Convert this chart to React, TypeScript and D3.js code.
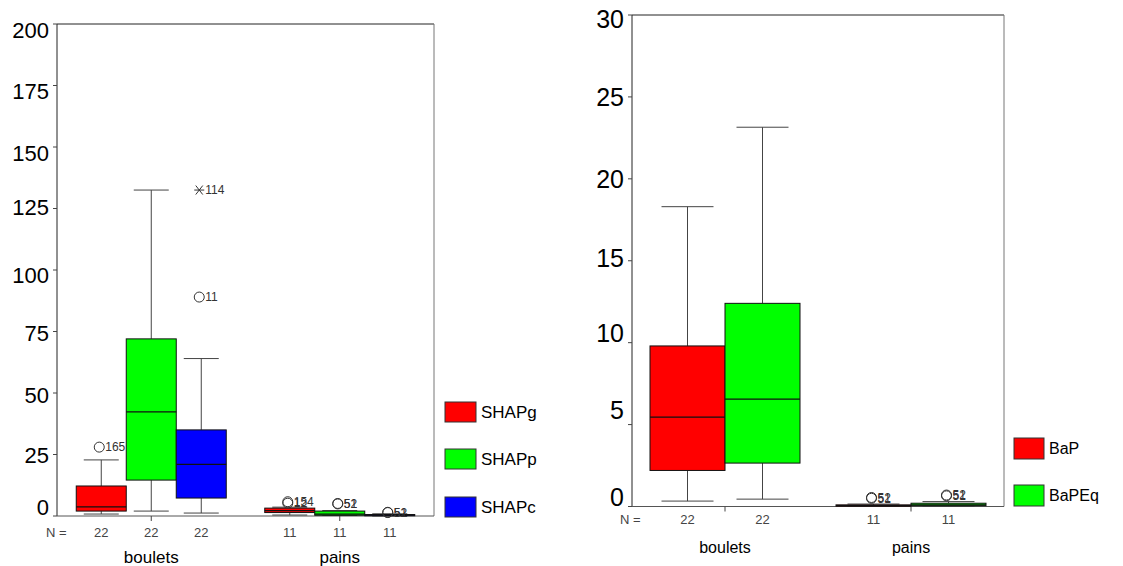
import React from "react";
import * as d3 from "d3";

// ---------- DATA ----------
const leftCategories = ["boulets", "pains"];
const leftSeries = ["SHAPg", "SHAPp", "SHAPc"];
const leftColors = ["#ff0000", "#00ff00", "#0000ff"];
const leftN = [[22, 22, 22], [11, 11, 11]];
// [lowerWhisker, q1, median, q3, upperWhisker] per category, per series
const shapgStats = [[0.8, 2.0, 3.7, 12.2, 22.8], [0.4, 1.4, 2.2, 3.2, 3.6]];
const shappStats = [[2.0, 14.6, 42.3, 72.0, 132.5], [0.2, 0.3, 0.8, 2.0, 2.2]];
const shapcStats = [[1.2, 7.3, 21.0, 35.0, 64.0], [0.0, 0.1, 0.3, 0.6, 0.9]];
const leftTicks = [0, 25, 50, 75, 100, 125, 150, 175, 200];
const leftOutliers = [
  { cat: 0, s: 0, v: 28, label: "165", kind: "circle" },
  { cat: 0, s: 2, v: 89, label: "11", kind: "circle" },
  { cat: 0, s: 2, v: 132.5, label: "114", kind: "star" },
  { cat: 1, s: 0, v: 5.8, label: "154", kind: "circle" },
  { cat: 1, s: 0, v: 5.2, label: "12", kind: "circle" },
  { cat: 1, s: 1, v: 5.1, label: "52", kind: "circle" },
  { cat: 1, s: 1, v: 4.9, label: "51", kind: "circle" },
  { cat: 1, s: 2, v: 1.5, label: "52", kind: "circle" },
  { cat: 1, s: 2, v: 1.4, label: "51", kind: "circle" },
];

const rightCategories = ["boulets", "pains"];
const rightSeries = ["BaP", "BaPEq"];
const rightColors = ["#ff0000", "#00ff00"];
const rightN = [[22, 22], [11, 11]];
const bapStats = [[0.33, 2.2, 5.45, 9.8, 18.3], [0.0, 0.02, 0.05, 0.1, 0.15]];
const bapeqStats = [[0.45, 2.65, 6.55, 12.4, 23.15], [0.02, 0.05, 0.1, 0.2, 0.3]];
const rightTicks = [0, 5, 10, 15, 20, 25, 30];
const rightOutliers = [
  { cat: 1, s: 0, v: 0.55, label: "52", kind: "circle" },
  { cat: 1, s: 0, v: 0.5, label: "51", kind: "circle" },
  { cat: 1, s: 1, v: 0.7, label: "52", kind: "circle" },
  { cat: 1, s: 1, v: 0.65, label: "51", kind: "circle" },
];

const FONT = "Arial, 'Liberation Sans', sans-serif";

type Outlier = { cat: number; s: number; v: number; label: string; kind: string };

function BoxChart(props: {
  x0: number; x1: number; y0: number; y1: number;
  domainMax: number; ticks: number[]; tickDy: (v: number) => number; tickFont: number;
  catFont: number; legendFont: number;
  categories: string[]; series: string[]; colors: string[];
  stats: number[][][]; nvals: number[][]; outliers: Outlier[];
  boxW: number; capW: number;
  nLabelX: number; nY: number; catY: number;
  legendX: number; legendY: number[]; legendW: number; legendH: number;
}) {
  const { x0, x1, y0, y1, domainMax, ticks, categories, series, colors, stats, nvals, outliers, boxW, capW } = props;
  const y = d3.scaleLinear().domain([0, domainMax]).range([y1, y0]);
  const xc = d3.scaleBand<string>().domain(categories).range([x0, x1]).paddingInner(0).paddingOuter(0);
  const ns = series.length;
  const boxX = (c: number, s: number) =>
    (xc(categories[c]) as number) + xc.bandwidth() / 2 - (ns * boxW) / 2 + s * boxW;

  return (
    <g>
      {/* frame */}
      <line x1={x0} x2={x1} y1={y0} y2={y0} stroke="#222" strokeWidth={1} />
      <line x1={x1} x2={x1} y1={y0} y2={y1} stroke="#777" strokeWidth={1} />
      <line x1={x0} x2={x0} y1={y0} y2={y1} stroke="#222" strokeWidth={1} />
      <line x1={x0} x2={x1} y1={y1} y2={y1} stroke="#555" strokeWidth={1} />
      {/* y ticks */}
      {ticks.map((t) => (
        <g key={t}>
          <line x1={x0 - 4} x2={x0} y1={y(t)} y2={y(t)} stroke="#444" />
          <text x={x0 - 8} y={y(t) + props.tickDy(t)} dy="0.35em" textAnchor="end"
            fontSize={props.tickFont} fontFamily={FONT} fill="#000">{t}</text>
        </g>
      ))}
      {/* category ticks & labels */}
      {categories.map((c, ci) => {
        const cx = (xc(c) as number) + xc.bandwidth() / 2;
        return (
          <g key={c}>
            <line x1={cx} x2={cx} y1={y1} y2={y1 + 5} stroke="#444" />
            <text x={cx} y={props.catY} dy="0.35em" textAnchor="middle" fontSize={props.catFont}
              fontFamily={FONT} fill="#000">{c}</text>
            {series.map((s, si) => (
              <text key={s} x={boxX(ci, si) + boxW / 2} y={props.nY} dy="0.35em" textAnchor="middle"
                fontSize={13} fontFamily={FONT} fill="#444">{nvals[ci][si]}</text>
            ))}
          </g>
        );
      })}
      <text x={props.nLabelX} y={props.nY} dy="0.35em" fontSize={13} fontFamily={FONT} fill="#444">N =</text>
      {/* boxes */}
      {categories.map((c, ci) =>
        series.map((s, si) => {
          const [lo, q1, med, q3, hi] = stats[si][ci];
          const bx = boxX(ci, si);
          const cx = bx + boxW / 2;
          return (
            <g key={c + s}>
              <line x1={cx} x2={cx} y1={y(hi)} y2={y(q3)} stroke="#444" />
              <line x1={cx} x2={cx} y1={y(q1)} y2={y(lo)} stroke="#444" />
              <line x1={cx - capW / 2} x2={cx + capW / 2} y1={y(hi)} y2={y(hi)} stroke="#444" />
              <line x1={cx - capW / 2} x2={cx + capW / 2} y1={y(lo)} y2={y(lo)} stroke="#444" />
              <rect x={bx} y={y(q3)} width={boxW} height={Math.max(0, y(q1) - y(q3))}
                fill={colors[si]} stroke="#111" strokeWidth={1} />
              <line x1={bx} x2={bx + boxW} y1={y(med)} y2={y(med)} stroke="#111" strokeWidth={1.2} />
            </g>
          );
        })
      )}
      {/* outliers */}
      {outliers.map((o, i) => {
        const cx = boxX(o.cat, o.s) + boxW / 2 - 2;
        const cy = y(o.v);
        return (
          <g key={i}>
            {o.kind === "circle" ? (
              <circle cx={cx} cy={cy} r={5} fill="none" stroke="#333" strokeWidth={1} />
            ) : (
              <g stroke="#333" strokeWidth={1}>
                <line x1={cx - 5} x2={cx + 5} y1={cy} y2={cy} />
                <line x1={cx - 3.5} x2={cx + 3.5} y1={cy - 4.5} y2={cy + 4.5} />
                <line x1={cx - 3.5} x2={cx + 3.5} y1={cy + 4.5} y2={cy - 4.5} />
              </g>
            )}
            <text x={cx + 6} y={cy} dy="0.35em" fontSize={12} fontFamily={FONT} fill="#333">{o.label}</text>
          </g>
        );
      })}
      {/* legend */}
      {series.map((s, si) => (
        <g key={s}>
          <rect x={props.legendX} y={props.legendY[si]} width={props.legendW} height={props.legendH}
            fill={colors[si]} stroke="#333" />
          <text x={props.legendX + props.legendW + 5} y={props.legendY[si] + props.legendH / 2} dy="0.35em"
            fontSize={props.legendFont} fontFamily={FONT} fill="#000">{s}</text>
        </g>
      ))}
    </g>
  );
}

const leftTickDy: Record<number, number> = { 0: -9, 25: 1, 50: 2, 75: 2, 100: 5, 125: -1, 150: 6, 175: 6, 200: 6 };
const rightTickDy: Record<number, number> = { 0: -9, 5: -14, 10: -9, 15: -3, 20: 0, 25: 0, 30: 4 };

export default function App() {
  return (
    <svg width={1123} height={566} style={{ position: "absolute", left: 0, top: 0, background: "#fff" }}>
      <rect width={1123} height={566} fill="#fff" />
      <BoxChart
        x0={57} x1={434} y0={24} y1={516} domainMax={200} ticks={leftTicks}
        tickDy={(v) => leftTickDy[v] ?? 0} tickFont={22} catFont={17} legendFont={17}
        categories={leftCategories} series={leftSeries} colors={leftColors}
        stats={[shapgStats, shappStats, shapcStats]} nvals={leftN} outliers={leftOutliers}
        boxW={50} capW={35} nLabelX={46} nY={532} catY={557}
        legendX={445} legendY={[402, 449, 497]} legendW={31} legendH={20}
      />
      <BoxChart
        x0={632} x1={1004} y0={15} y1={506.5} domainMax={30} ticks={rightTicks}
        tickDy={(v) => rightTickDy[v] ?? 0} tickFont={25} catFont={16} legendFont={16}
        categories={rightCategories} series={rightSeries} colors={rightColors}
        stats={[bapStats, bapeqStats]} nvals={rightN} outliers={rightOutliers}
        boxW={75} capW={52} nLabelX={620} nY={519} catY={547}
        legendX={1014} legendY={[438, 485]} legendW={30} legendH={21}
      />
    </svg>
  );
}
